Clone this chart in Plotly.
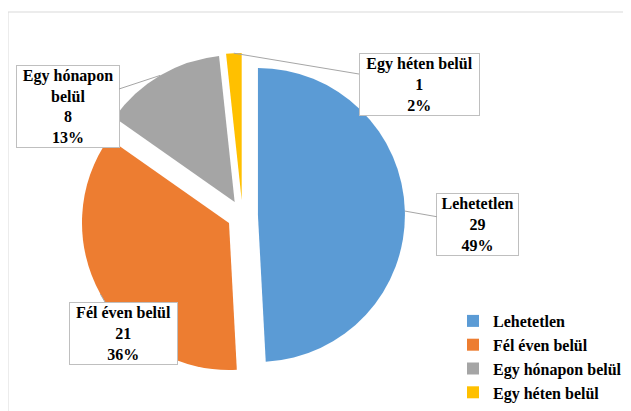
import math
import plotly.graph_objects as go

# ---- data ----
categories = ["Lehetetlen", "Fél éven belül", "Egy hónapon belül", "Egy héten belül"]
values = [29, 21, 8, 1]
pct_labels = ["49%", "36%", "13%", "2%"]
label_names = ["Lehetetlen", "Fél éven belül", "Egy hónapon<br>belül", "Egy héten belül"]
colors = ["#5B9BD5", "#ED7D31", "#A5A5A5", "#FFC000"]

# ---- layout constants (page pixels; page body has an 8px margin) ----
W, H = 631, 411
OFF = 8
CX, CY = 242.5, 215.4      # unpulled pie centre
R = 147.0                  # pie radius
PULL = 0.105               # explode fraction
S = 2 * R * (1 + PULL)     # pie domain side length


def fx(x):
    return (x - OFF) / W


def fy(y):
    return 1 - (y - OFF) / H


# label box centres and sizes (page pixels)
box_pos = [(478, 224), (123, 333), (67.5, 106), (419, 84)]
box_size = [(82, 62), (108, 62), (103, 82), (120, 62)]

SERIF = "Liberation Serif, Times New Roman, Times, serif"
FONT = dict(family=SERIF, size=16, color="black")

fig = go.Figure()
fig.add_trace(go.Pie(
    labels=[f"<b>{c}</b>" for c in categories],
    values=values,
    sort=False,
    direction="clockwise",
    rotation=0,
    pull=[PULL] * len(values),
    marker=dict(colors=colors, line=dict(width=0)),
    textinfo="none",
    hoverinfo="label+value+percent",
    domain=dict(x=[fx(CX - S / 2), fx(CX + S / 2)],
                y=[fy(CY + S / 2), fy(CY - S / 2)]),
))

total = sum(values)
cum = 0
annotations = []
for i, v in enumerate(values):
    mid = math.radians((cum + v / 2) / total * 360)
    cum += v
    tx = CX + R * (1 + PULL) * math.sin(mid)
    ty = CY - R * (1 + PULL) * math.cos(mid)
    bx, by = box_pos[i]
    bw, bh = box_size[i]
    annotations.append(dict(
        x=fx(tx), y=fy(ty), xref="paper", yref="paper",
        ax=bx - tx, ay=by - ty, axref="pixel", ayref="pixel",
        text=f"<b>{label_names[i]}<br>{v}<br>{pct_labels[i]}</b>",
        showarrow=True, arrowhead=0, arrowwidth=1, arrowcolor="#A6A6A6",
        standoff=0, startstandoff=0,
        bgcolor="white", bordercolor="#BFBFBF", borderwidth=1, borderpad=1,
        width=bw - 3, height=bh - 3, align="center", valign="middle",
        font=FONT,
    ))

shapes = [
    dict(type="line", xref="paper", yref="paper", x0=fx(8), x1=1.0,
         y0=fy(12), y1=fy(12), line=dict(color="#D9D9D9", width=1)),
    dict(type="line", xref="paper", yref="paper", x0=fx(8), x1=fx(8),
         y0=fy(12), y1=0.0, line=dict(color="#D9D9D9", width=1)),
]

fig.update_layout(
    width=W, height=H,
    margin=dict(l=0, r=0, t=0, b=0),
    paper_bgcolor="white", plot_bgcolor="white",
    annotations=annotations,
    shapes=shapes,
    showlegend=True,
    legend=dict(x=fx(453), y=fy(304), xanchor="left", yanchor="top",
                font=dict(family=SERIF, size=16, color="black"),
                bgcolor="rgba(0,0,0,0)", tracegroupgap=0),
)

fig.write_html("out.html")
